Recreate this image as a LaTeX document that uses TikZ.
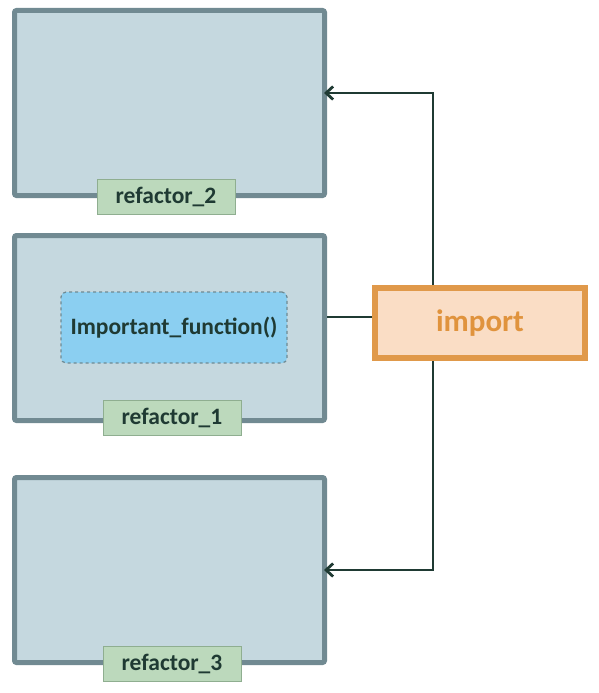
\documentclass[tikz,border=0pt]{standalone}
\usepackage{fontspec}
\setmainfont{Carlito}
\usetikzlibrary{positioning,arrows.meta}
\definecolor{modfill}{HTML}{C5D8DF}
\definecolor{modline}{HTML}{718A92}
\definecolor{tagfill}{HTML}{BCD9BC}
\definecolor{tagline}{HTML}{8FAE90}
\definecolor{ink}{HTML}{1F3A33}
\definecolor{funcfill}{HTML}{8BCFF1}
\definecolor{funcline}{HTML}{6F8A93}
\definecolor{impfill}{HTML}{FADDC5}
\definecolor{impline}{HTML}{E0994A}
\definecolor{imptext}{HTML}{E0933D}
\begin{document}
\begin{tikzpicture}[x=1pt, y=-1pt, font=\fontsize{23.5}{27}\selectfont\bfseries,
    module/.style={draw=modline, fill=modfill, line width=5pt, rounded corners=2pt, minimum width=310pt, minimum height=185pt, inner sep=0pt},
    tag/.style={draw=tagline, fill=tagfill, text=ink, line width=0.8pt, minimum width=138pt, minimum height=35pt, inner sep=0pt},
    func/.style={draw=funcline, fill=funcfill, text=ink, dashed, line width=1.2pt, rounded corners=5pt, minimum width=226pt, minimum height=71pt, inner sep=0pt},
    importbox/.style={draw=impline, fill=impfill, text=imptext, line width=6pt, minimum width=210pt, minimum height=70pt, font=\fontsize{31}{35}\selectfont\bfseries},
    link/.style={draw=ink, line width=2.8pt, -{Straight Barb[length=7pt,width=13pt]}, shorten >=-3pt}]
  \useasboundingbox (0,0) rectangle (599,693);
  \node[module] (r2) at (169.5,103) {};
  \node[module] (r1) at (169.5,328) {};
  \node[module] (r3) at (169.5,570) {};
  \node[tag] (t2) at (166,196.5) {refactor\_2};
  \node[tag] (t1) at (172,418) {refactor\_1};
  \node[tag] (t3) at (172,663.5) {refactor\_3};
  \node[func] (fn) at (174,327.5) {Important\_function()};
  \node[importbox] (imp) at (480,323) {import};
  \coordinate (jn) at ([yshift=6pt]imp.west);
  \draw[ink, line width=2.8pt] (jn) -- (jn -| r1.east);
  \draw[link] ([xshift=-47pt]imp.north) |- ([yshift=10pt]r2.east);
  \draw[link] ([xshift=-47pt]imp.south) |- (r3.east);
\end{tikzpicture}
\end{document}
